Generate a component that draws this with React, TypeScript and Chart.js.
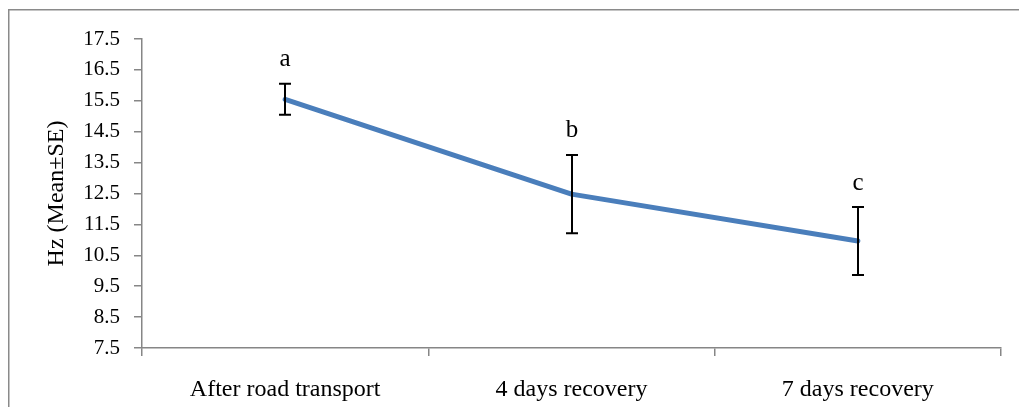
import React, { useEffect, useRef } from "react";
import { Chart, registerables } from "chart.js";

Chart.register(...registerables);

const categories = ["After road transport", "4 days recovery", "7 days recovery"];
const means = [15.55, 12.48, 10.96];
const errors = [0.5, 1.27, 1.1];
const letters = ["a", "b", "c"];
const yTicks = [7.5, 8.5, 9.5, 10.5, 11.5, 12.5, 13.5, 14.5, 15.5, 16.5, 17.5];
const yTitle = "Hz (Mean±SE)";

const FONT = "'Liberation Serif', 'Times New Roman', serif";
const AXIS_GRAY = "#868686";

const decorPlugin = {
  id: "decor",
  beforeDraw(chart: any) {
    const ctx = chart.ctx;
    ctx.save();
    ctx.strokeStyle = "#8a8a8a";
    ctx.lineWidth = 1.5;
    ctx.beginPath();
    ctx.moveTo(8.75, chart.height);
    ctx.lineTo(8.75, 9.75);
    ctx.lineTo(chart.width, 9.75);
    ctx.stroke();
    ctx.restore();
  },
  afterDatasetsDraw(chart: any) {
    const ctx = chart.ctx;
    const xs = chart.scales.x;
    const ys = chart.scales.y;
    ctx.save();
    ctx.strokeStyle = "#000";
    ctx.lineWidth = 2;
    ctx.fillStyle = "#000";
    ctx.font = `25px ${FONT}`;
    ctx.textAlign = "center";
    ctx.textBaseline = "middle";
    means.forEach((m, i) => {
      const x = Math.round(xs.getPixelForValue(i));
      const yTop = ys.getPixelForValue(m + errors[i]);
      const yBot = ys.getPixelForValue(m - errors[i]);
      const cap = 6;
      ctx.beginPath();
      ctx.moveTo(x, yTop);
      ctx.lineTo(x, yBot);
      ctx.moveTo(x - cap, yTop);
      ctx.lineTo(x + cap, yTop);
      ctx.moveTo(x - cap, yBot);
      ctx.lineTo(x + cap, yBot);
      ctx.stroke();
      ctx.fillText(letters[i], x, yTop - 24);
    });
    ctx.restore();
  },
};

export default function App() {
  const canvasRef = useRef<HTMLCanvasElement | null>(null);

  useEffect(() => {
    if (!canvasRef.current) return;
    const chart = new Chart(canvasRef.current, {
      type: "line",
      data: {
        labels: categories,
        datasets: [
          {
            data: means,
            borderColor: "#4a7ebb",
            backgroundColor: "#4a7ebb",
            borderWidth: 5,
            borderCapStyle: "round",
            borderJoinStyle: "round",
            pointRadius: 0,
            pointHoverRadius: 0,
            tension: 0,
            fill: false,
          },
        ],
      },
      options: {
        animation: false,
        responsive: false,
        devicePixelRatio: 1,
        events: [],
        layout: { padding: { left: 0, right: 18, top: 39, bottom: 0 } },
        plugins: {
          legend: { display: false },
          tooltip: { enabled: false },
          title: { display: false },
        },
        scales: {
          x: {
            type: "category",
            offset: true,
            grid: {
              offset: true,
              drawOnChartArea: false,
              tickLength: 8,
              color: AXIS_GRAY,
              lineWidth: 1.5,
            },
            border: { display: true, color: AXIS_GRAY, width: 1.5 },
            ticks: {
              color: "#000",
              font: { family: FONT, size: 24 },
              padding: 19,
              maxRotation: 0,
              autoSkip: false,
            },
            afterFit(scale: any) {
              scale.height = 59;
            },
          },
          y: {
            type: "linear",
            min: 7.5,
            max: 17.5,
            afterBuildTicks(scale: any) {
              scale.ticks = yTicks.map((v) => ({ value: v }));
            },
            grid: {
              drawOnChartArea: false,
              tickLength: 8,
              color: AXIS_GRAY,
              lineWidth: 1.5,
            },
            border: { display: true, color: AXIS_GRAY, width: 1.5 },
            ticks: {
              color: "#000",
              font: { family: FONT, size: 21 },
              padding: 14,
              callback: (v: any) => Number(v).toFixed(1),
            },
            title: {
              display: true,
              text: yTitle,
              color: "#000",
              font: { family: FONT, size: 24 },
              padding: { top: 42, bottom: 0 },
            },
            afterFit(scale: any) {
              scale.width = 142;
            },
          },
        },
      },
      plugins: [decorPlugin],
    });
    return () => chart.destroy();
  }, []);

  return (
    <div style={{ position: "fixed", left: 0, top: 0, width: 1019, height: 407, background: "#fff" }}>
      <canvas ref={canvasRef} width={1019} height={407} style={{ display: "block", width: 1019, height: 407 }} />
    </div>
  );
}
